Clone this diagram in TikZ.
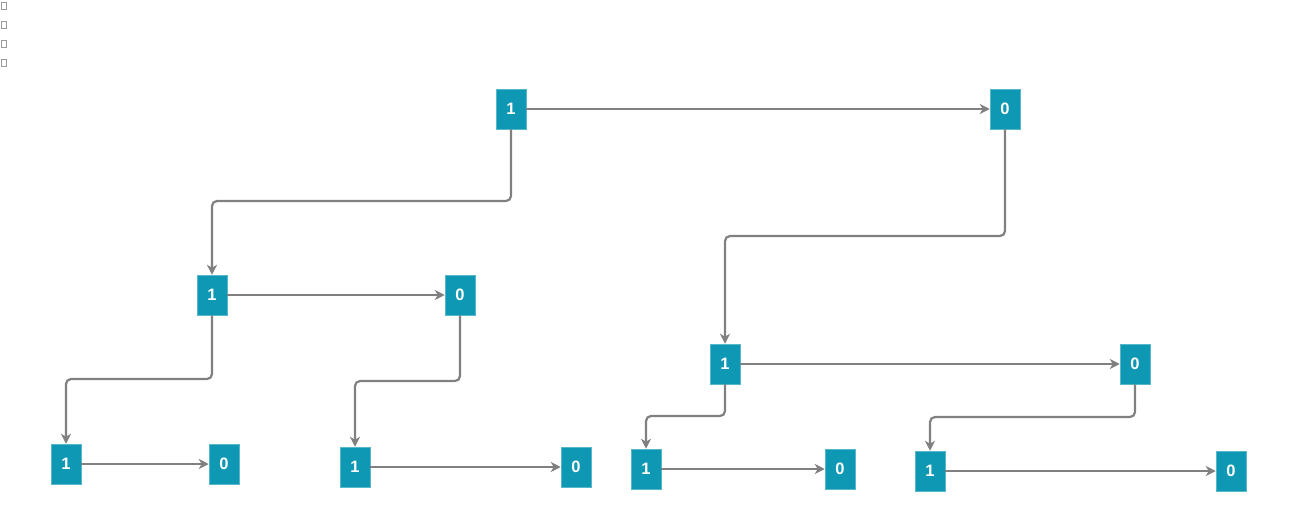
\documentclass[tikz,border=0pt]{standalone}
\usepackage{fontspec}
\setmainfont{Liberation Sans}
\usetikzlibrary{arrows.meta}
\definecolor{teal1}{HTML}{0E98B4}
\definecolor{edgegray}{HTML}{808080}
\tikzset{
  x=1pt, y=-1pt,
  bit/.style={fill=teal1, draw=teal1!70!white, line width=0.5pt, minimum width=30pt, minimum height=40pt, inner sep=0pt, text=white, font=\bfseries\fontsize{16.5}{16.5}\selectfont},
  conn/.style={draw=edgegray, line width=2.2pt, rounded corners=5pt, -{Stealth[length=10pt,width=10pt,inset=3pt]}},
  icon/.style={draw=gray!80, line width=0.8pt, minimum width=5pt, minimum height=7pt, inner sep=0pt}
}
\begin{document}
\begin{tikzpicture}
\useasboundingbox (0,0) rectangle (1290,515);
\node[icon] (s1) at (4,6) {};
\node[icon] (s2) at (4,25) {};
\node[icon] (s3) at (4,44) {};
\node[icon] (s4) at (4,63) {};

\node[bit] (A) at (511,109) {1};
\node[bit] (B) at (1005,109) {0};
\node[bit] (C) at (212,295) {1};
\node[bit] (D) at (460,295) {0};
\node[bit] (E) at (66,464) {1};
\node[bit] (F) at (224,464) {0};
\node[bit] (G) at (355,467) {1};
\node[bit] (H) at (576,467) {0};
\node[bit] (I) at (725,364) {1};
\node[bit] (J) at (1135,364) {0};
\node[bit] (K) at (646,469) {1};
\node[bit] (L) at (840,469) {0};
\node[bit] (M) at (930,471) {1};
\node[bit] (N) at (1231,471) {0};

\coordinate (bAC) at (212,201);
\coordinate (bBI) at (725,236);
\coordinate (bCE) at (66,379);
\coordinate (bDG) at (355,381);
\coordinate (bIK) at (646,416);
\coordinate (bJM) at (930,417);

\draw[conn] (A.east) -- (B.west);
\draw[conn] (C.east) -- (D.west);
\draw[conn] (E.east) -- (F.west);
\draw[conn] (G.east) -- (H.west);
\draw[conn] (I.east) -- (J.west);
\draw[conn] (K.east) -- (L.west);
\draw[conn] (M.east) -- (N.west);

\draw[conn] (A.south) |- (bAC) -- (C.north);
\draw[conn] (B.south) |- (bBI) -- (I.north);
\draw[conn] (C.south) |- (bCE) -- (E.north);
\draw[conn] (D.south) |- (bDG) -- (G.north);
\draw[conn] (I.south) |- (bIK) -- (K.north);
\draw[conn] (J.south) |- (bJM) -- (M.north);
\end{tikzpicture}
\end{document}
